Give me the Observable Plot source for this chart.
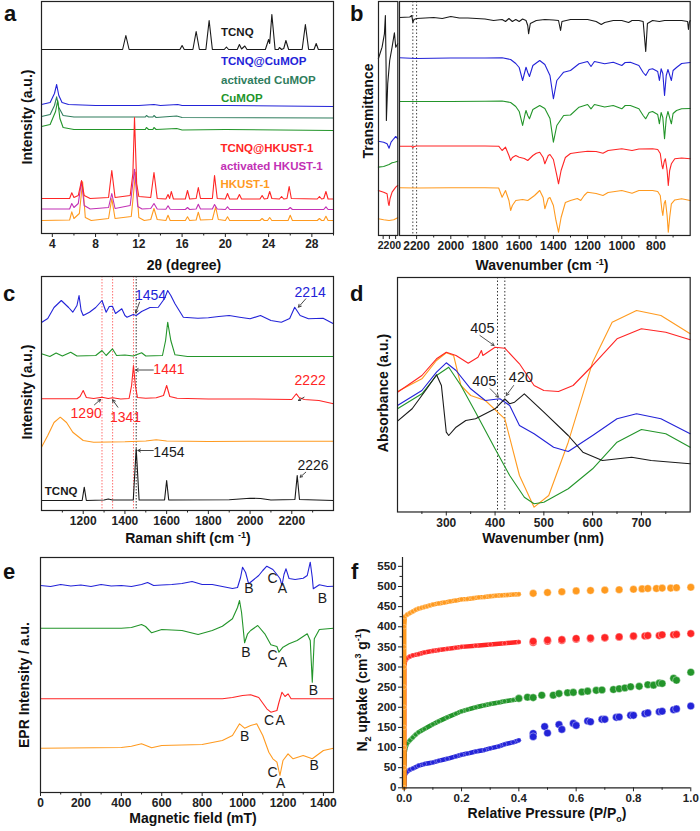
<!DOCTYPE html>
<html><head><meta charset="utf-8">
<script src="https://cdn.jsdelivr.net/npm/d3@7"></script>
<script src="https://cdn.jsdelivr.net/npm/@observablehq/plot@0.6"></script>
<style>
body{margin:0;background:#fff;}
#fig{position:relative;width:700px;height:831px;font-family:"Liberation Sans",Arial,sans-serif;overflow:hidden;background:#fff;color:#111}
.t{position:absolute;font-weight:bold;white-space:nowrap;line-height:1.15}
.lt{font-size:22px}
.ax{font-size:14px}
.rot{transform:translate(-50%,-50%) rotate(-90deg)}
.ctr{transform:translate(-50%,-50%)}
sup,sub{font-size:9px}
</style></head><body><div id="fig"></div>
<script>
// ---------------- DATA ----------------
// (a) PXRD, 2theta (deg) vs stacked intensity
const a_TCNQ=[[3,184],[10.5,184],[10.8,198],[11.1,184],[15.8,184],[16.0,188],[16.2,184],[17.0,184],[17.3,202],[17.6,184],[18.2,184],[18.5,213],[18.8,184],[19.9,184],[20.1,186.5],[20.3,184],[21.1,184],[21.3,189],[21.5,184.5],[21.8,187.5],[22.0,184],[23.7,184],[24.0,194],[24.1,190],[24.3,219],[24.6,184],[24.9,184],[25.0,186],[25.2,184],[25.4,185],[25.6,193],[25.85,184],[27.1,184],[27.4,209],[27.7,184],[28.2,184],[28.4,190],[28.6,184],[30,184]];
const a_TCNQ_CuMOP=[[3,129],[3.8,131],[4.2,140],[4.4,149],[4.6,138],[4.9,131],[5.5,129],[8,128],[12,128],[13.4,129],[14,128],[15.6,129],[16,128],[20,128],[30,127]];
const a_actCuMOP=[[3,117],[3.8,119],[4.2,128],[4.4,136.7],[4.6,126],[5,118],[6,116.5],[12.6,116.5],[12.7,118],[12.9,116.5],[13.3,116.5],[13.4,118],[13.6,116],[15.5,117.5],[16,116],[30,115.5]];
const a_CuMOP=[[3,107],[3.8,109],[4.3,122],[4.5,133],[4.7,115],[5,106],[6,104],[12.6,104],[12.7,106],[12.9,104],[13.3,104],[13.4,106],[13.6,104],[15.5,105],[16,103.5],[20,104],[30,103]];
const a_TCNQ_HKUST=[[3,35],[5.6,35],[5.8,40.7],[6.0,36],[6.4,38],[6.7,53],[6.95,38],[7.5,35],[9.2,36],[9.5,63],[9.8,36],[11.2,38],[11.45,60],[11.6,116],[11.8,50],[12.0,37],[13.1,36],[13.4,61],[13.7,35],[14.5,34.5],[14.7,39],[14.85,35],[15.0,42],[15.2,34.5],[16.3,34.5],[16.5,43],[16.7,34.5],[17.3,35],[17.5,46],[17.7,35],[18.8,35],[19.0,58],[19.25,35],[20.0,34.5],[20.2,40],[20.4,34.5],[21.1,34.5],[21.3,39],[21.5,34.5],[23.2,34.5],[23.4,38],[23.6,34.5],[23.9,35],[24.1,42],[24.3,35],[25.0,34.5],[25.2,37],[25.4,34.5],[25.7,35],[25.9,47],[26.1,35],[28.5,34.5],[28.7,37],[28.9,34.5],[29.1,35],[29.3,42],[29.5,34.5],[30,34.5]];
const a_actHKUST=[[3,24.5],[5.6,24.5],[5.8,30],[6.0,26],[6.4,30],[6.7,52.3],[6.95,28],[7.5,24.5],[9.2,26],[9.5,40],[9.8,25],[11.2,28],[11.6,64.3],[11.9,27],[12.3,24.5],[13.1,25],[13.4,30],[13.7,24.5],[14.5,24.2],[14.7,27.7],[14.9,24.2],[16.3,24],[16.5,26],[16.7,24],[17.3,24.5],[17.5,29.3],[17.7,24.5],[18.8,24.5],[19.0,29],[19.25,24.5],[20.0,24],[20.2,26.7],[20.4,24],[25.8,24],[26.0,26],[26.2,24],[29.1,24],[29.3,26.7],[29.5,24],[30,24]];
const a_HKUST=[[3,13],[5.6,13.5],[5.8,21.7],[6.0,15],[6.5,20],[6.8,51.7],[7.05,16],[7.6,13],[9.2,15],[9.5,35],[9.8,15],[11.3,17],[11.7,61.3],[12.0,16],[12.5,13],[13.1,14],[13.4,25],[13.7,14],[14.5,13],[14.7,18.3],[14.9,13],[16.3,13],[16.5,16.7],[16.7,13],[17.3,13.5],[17.5,21.3],[17.7,13.5],[18.8,14],[19.1,26.7],[19.35,14],[20.0,13],[20.2,16.7],[20.4,13],[23.2,13],[23.4,15],[23.6,13],[23.9,13],[24.1,16],[24.3,13],[25.8,13],[26.0,18.3],[26.2,13],[28.5,13],[28.7,15],[28.9,13],[29.1,13],[29.3,17.3],[29.5,13],[30,13]];
const a_names=["TCNQ","TCNQ@CuMOP","activated CuMOP","CuMOP","TCNQ@HKUST-1","activated HKUST-1","HKUST-1"];
const a_nameX=[19.6,19.6,19.6,19.6,19.55,19.55,19.55];
const a_nameY=[201,171.7,153.3,134.7,85,66.7,49];
const a_ticks=[4,8,12,16,20,24,28];

// (b) FTIR, wavenumber vs stacked transmittance
const b_TCNQ=[[2300,218],[2240,218.5],[2228,220],[2222,213],[2215,216],[2200,217],[2150,217.5],[2100,218],[2050,217],[2000,219],[1950,217.5],[1900,217.5],[1850,217],[1800,216.5],[1750,215],[1700,216],[1680,214],[1660,217],[1640,214],[1620,216],[1600,214],[1580,216.5],[1560,215],[1550,210],[1545,201.7],[1535,212],[1500,215],[1450,216],[1400,215.5],[1370,215],[1358,205],[1350,214],[1300,216],[1250,216],[1200,216],[1150,214],[1120,211],[1100,213],[1050,215],[1000,215],[960,213],[940,215],[900,215],[875,214],[860,184],[850,212],[820,215],[780,214],[750,215],[700,215],[650,215],[615,214],[610,206],[605,213],[600,215]];
const b_TCNQ_CuMOP=[[2300,177.7],[2200,177],[2000,177.5],[1800,177.5],[1700,177.8],[1650,176],[1620,172],[1600,168],[1580,155],[1565,165],[1560,168.3],[1550,163],[1540,159],[1520,170],[1480,175],[1450,171],[1420,160],[1400,136.7],[1380,155],[1340,163.3],[1300,165],[1250,171.7],[1200,174],[1180,169],[1160,174],[1100,171.7],[1050,173.3],[1000,170],[980,173],[950,173.3],[900,170],[875,163],[860,160],[840,166],[820,166.7],[790,164],[780,155],[770,166.7],[760,162],[750,140],[740,160],[730,166],[710,155],[700,165],[680,168],[650,172],[600,173]];
const b_CuMOP=[[2300,134],[2200,134],[2000,134],[1800,134.3],[1700,134.5],[1650,133],[1620,129],[1600,124],[1580,110],[1565,122],[1560,125],[1550,120],[1540,116.7],[1520,126],[1480,130],[1450,127],[1420,117],[1400,93.3],[1380,110],[1340,120],[1300,120.5],[1250,128.3],[1200,131],[1180,126.7],[1160,131],[1100,128.5],[1050,130],[1000,126.7],[980,130],[950,130],[900,126.7],[875,120],[860,116.7],[840,123],[820,124],[790,121],[780,111.7],[770,123],[760,118],[750,96.7],[740,117],[730,124],[710,111.7],[700,122],[680,125],[650,126.7],[600,127]];
const b_TCNQ_HKUST=[[2300,89.3],[2230,89.3],[2222,88],[2215,89],[2200,89.5],[2000,89.5],[1800,89.5],[1720,89.3],[1700,85],[1680,88.3],[1660,80],[1650,75],[1640,78],[1620,80],[1600,78.3],[1570,77],[1550,75],[1520,80],[1500,82.3],[1480,83.3],[1460,78],[1450,71.7],[1430,80],[1420,81],[1400,76],[1380,60],[1370,51.7],[1355,65],[1330,78],[1300,82],[1250,83.3],[1200,84.3],[1150,84],[1110,82.3],[1080,85],[1000,86.7],[940,85],[900,86.5],[820,86.7],[790,86],[775,82],[765,70],[760,66.7],[752,74],[745,76.7],[735,65],[728,50],[720,65],[710,71.7],[690,76.7],[650,77.5],[600,76.7]];
const b_HKUST=[[2300,47.7],[2200,47.5],[2000,47.7],[1800,47.7],[1720,47.5],[1700,38.3],[1680,45],[1660,35],[1650,25],[1640,30],[1620,35],[1580,36],[1550,35],[1510,40],[1480,45],[1460,38],[1450,26.7],[1430,37],[1420,38],[1400,30],[1385,15],[1370,3.3],[1355,18],[1330,33],[1300,35],[1260,37],[1240,35],[1220,40],[1200,43.3],[1150,42],[1110,40],[1080,43],[1000,45],[940,42.3],[900,45],[820,45],[790,44],[775,40],[765,25],[760,20],[752,32],[745,35],[735,20],[728,3.3],[720,18],[710,31.7],[690,35.5],[650,36.7],[600,35]];
// inset (nitrile region)
const bi_TCNQ=[[2235.5,176.7],[2223.5,188.3],[2216,201.7],[2212.9,220],[2210.6,168.3],[2209.7,115],[2205.4,151.7],[2199,175],[2191.3,188.3],[2183.9,202.7],[2179.6,188.3],[2173.2,191.7]];
const bi_TCNQ_CuMOP=[[2235.5,94.3],[2218.4,93.3],[2207.5,91.7],[2201,87.3],[2194.6,93.3],[2186,96.7],[2179.6,99],[2173.2,96.7]];
const bi_CuMOP=[[2235.5,68.3],[2218.4,69],[2201,71],[2191.3,72.7],[2183.9,73.3],[2173.2,74.3]];
const bi_TCNQ_HKUST=[[2235.5,45],[2218.4,43.3],[2207.5,41.7],[2203,31.7],[2201,30],[2198,36.7],[2191.3,43.3],[2179.6,48.3],[2173.2,50]];
const bi_HKUST=[[2235.5,16.7],[2218.4,15.7],[2201,15],[2186,15.7],[2173.2,17.7]];
const b_ticks=[2200,2000,1800,1600,1400,1200,1000,800];
const b_guides=[2222,2200];

// (c) Raman
const c_TCNQ_CuMOP=[[1000,188],[1030,192],[1060,203],[1095,210],[1130,203],[1150,198.3],[1170,205],[1180,215],[1190,200],[1200,195],[1230,198.3],[1260,203],[1290,210],[1310,198.3],[1325,204],[1340,204.3],[1355,197],[1385,201.7],[1400,195],[1410,193.3],[1440,196],[1454,195],[1480,199],[1520,203],[1560,203.3],[1590,212],[1605,220],[1620,215],[1640,206.7],[1680,193.3],[1750,192.3],[1800,192.7],[1850,194],[1900,195],[1950,193.3],[2000,191.7],[2050,195],[2100,190],[2150,188.3],[2190,192],[2214,203.3],[2240,195],[2280,191.7],[2350,192.3],[2400,186.7]];
const c_CuMOP=[[1000,156.7],[1040,154],[1070,157.5],[1100,154.5],[1140,158.3],[1170,154.5],[1260,155],[1290,160],[1310,155],[1340,161.7],[1360,155],[1400,155.5],[1440,154.5],[1480,157.7],[1500,154.5],[1580,155],[1595,170],[1605,188.3],[1620,170],[1640,155.7],[1700,154],[2000,154],[2400,154]];
const c_TCNQ_HKUST=[[1000,111.7],[1170,111.7],[1185,114],[1200,120],[1215,113],[1250,112],[1290,113.3],[1320,112],[1341,112.7],[1380,111.5],[1420,112],[1432,125],[1441,145],[1450,125],[1460,113],[1500,112.3],[1550,112.7],[1585,115],[1600,125],[1615,114],[1650,112.3],[1800,111.5],[2000,111.5],[2200,111],[2215,115],[2222,116.7],[2235,113],[2260,111],[2330,110],[2400,106.7]];
const c_HKUST=[[1000,63.3],[1030,75],[1060,88],[1090,93.3],[1120,88],[1150,78.3],[1200,70],[1250,68.3],[1400,68.7],[1500,69.5],[1550,70.7],[1600,69.5],[1800,69],[2000,69.3],[2400,69.3]];
const c_TCNQ=[[1000,10],[1195,10],[1205,23.3],[1215,10],[1300,10.5],[1320,11.5],[1340,10.5],[1440,10.5],[1448,40],[1454,61.7],[1460,40],[1468,10.5],[1590,10.5],[1600,30],[1610,10.5],[1900,10.8],[2000,12.3],[2050,12],[2100,10.5],[2215,11],[2226,35],[2237,11],[2400,10]];
const c_redGuides=[1290,1341,1441];
const c_blackGuides=[1454];
const c_noteText=["1454","2214","1441","2222","1290","1341","1454","2226"];
const c_noteX=[1523,2288,1611,2288,1214,1403,1611,2302];
const c_noteY=[215,218.3,140.7,130,96.7,93.3,57.7,45];
const c_arrow=[[1470,208.3,1452,197.7],[2267,211.7,2232,203.3],[1536,140.5,1451,140.5],[2259,113.3,2232,110],[1254,105.7,1283,111],[1366,103.3,1341,110.7],[1536,60,1462,60],[2267,38.3,2240,33.3]];
const c_ticks=[1200,1400,1600,1800,2000,2200];

// (d) UV-vis
const d_TCNQ_HKUST=[[200,119.8],[230,129.8],[250,136.5],[280,153.2],[300,159.8],[320,156.5],[345,148.8],[365,154.8],[372,161.5],[375,156.5],[400,164.8],[420,163.8],[450,148.2],[480,126.5],[500,121.5],[530,120.5],[560,126.5],[600,146.5],[650,173.2],[700,183.2],[750,179.8],[800,172.2]];
const d_HKUST=[[200,120.5],[250,133.2],[280,151.5],[300,159.2],[315,156.5],[330,126.5],[350,116.5],[380,111.5],[420,93.2],[450,36.5],[480,4.8],[510,16.5],[550,69.8],[600,149.8],[640,189.8],[690,201.5],[740,196.5],[800,178.2]];
const d_TCNQ_CuMOP=[[200,106.5],[250,121.5],[280,139.8],[300,149.2],[320,141.5],[350,123.2],[380,111.5],[410,113.2],[430,106.5],[450,86.5],[480,78.2],[520,64.8],[550,60.5],[600,76.5],[650,93.2],[690,98.2],[740,93.2],[800,78.2]];
const d_CuMOP=[[200,103.2],[250,118.2],[280,136.5],[305,144.8],[330,126.5],[360,99.8],[400,63.2],[430,36.5],[460,14.8],[480,8.2],[500,9.8],[550,23.2],[600,43.2],[650,69.8],[700,82.5],[750,78.2],[800,64.8]];
const d_TCNQ=[[200,90.8],[230,103.2],[260,123.2],[280,137.2],[290,126.5],[300,79.8],[305,76.5],[320,84.8],[340,91.5],[360,93.2],[400,103.2],[420,113.2],[430,108.2],[440,109.8],[460,118.2],[500,99.8],[550,76.5],[580,59.8],[620,51.5],[680,54.8],[720,51.5],[800,48.2]];
const d_guides=[405,420];
const d_noteText=["405","405","420"];
const d_noteX=[374,378,453];
const d_noteY=[183.2,130.5,134.8];
const d_arrow=[[369,176.5,398,166.5],[390,123.2,407,114.8],[438,126.5,423,116.5]];
const d_ticks=[300,400,500,600,700];

// (e) EPR
const e_TCNQ_CuMOP=[[0,207],[50,206],[100,208],[150,206.5],[200,207.5],[250,206],[300,208],[350,206.5],[400,207],[450,206],[500,208],[530,210],[560,207],[600,207.5],[650,208],[700,209],[750,211],[800,208],[850,208],[900,206],[950,204],[975,205],[990,215],[1000,225.3],[1015,220],[1030,208.7],[1050,212],[1080,217],[1100,222],[1120,226.3],[1150,223],[1170,218],[1185,214],[1195,207],[1205,218],[1215,223.7],[1230,214],[1260,213],[1300,214.3],[1320,217],[1335,230.3],[1345,215],[1350,203.7],[1380,207.7],[1420,206],[1450,206.3]];
const e_CuMOP=[[0,164.3],[400,164.3],[450,165],[500,168],[520,166],[550,159.7],[600,163],[700,162],[780,158],[850,162],[900,166.3],[950,173.7],[975,185],[985,192],[995,180],[1010,149.7],[1025,158.7],[1040,162],[1075,167],[1110,158.7],[1140,147.7],[1170,146],[1180,140.3],[1200,145.3],[1230,148.7],[1270,152],[1320,158.7],[1335,152],[1345,110.3],[1355,153.7],[1380,163],[1450,164.3]];
const e_TCNQ_HKUST=[[0,93.7],[900,93.7],[950,95],[1000,97],[1040,97.7],[1080,95],[1120,83.7],[1140,80.3],[1170,82],[1180,90],[1195,100.3],[1210,96],[1225,98.7],[1240,93.7],[1450,93.7]];
const e_HKUST=[[0,44.3],[400,45],[450,46.3],[500,48.7],[550,44.7],[600,47],[800,48],[900,52],[950,57],[985,68.7],[1010,64.3],[1040,67],[1070,68.7],[1100,57],[1130,40.3],[1150,33.7],[1170,30.3],[1185,17],[1200,32],[1225,38.7],[1250,33.7],[1300,37],[1345,33.7],[1400,42],[1450,44.3]];
const e_noteText=["B","C","A","B","B","C","A","B","C","A","B","C","A","B"];
const e_noteX=[1032,1148,1197,1395,1016,1148,1197,1351,1131,1186,1011,1148,1189,1354];
const e_noteY=[203.7,213.7,203.7,193.7,140.3,137,129.7,102,72,72,56,20.3,8.7,27];
const e_ticks=[0,200,400,600,800,1000,1200,1400];

// (f) N2 isotherms
const f_HKUST_low=[[0,0],[0,50],[0,100],[0,150],[0,200],[0,250],[0,300],[0,350],[0,400],[0.002,425],[0.01,430],[0.02,434],[0.03,438],[0.04,442],[0.05,445],[0.06,447],[0.07,449],[0.08,451],[0.09,453],[0.1,455],[0.12,458],[0.14,460],[0.16,463],[0.18,465],[0.2,468],[0.22,469],[0.24,471],[0.26,473],[0.28,474],[0.3,476],[0.32,477],[0.34,478],[0.36,479],[0.38,480],[0.4,481]];
const f_HKUST_high=[[0.45,483],[0.5,485],[0.55,487],[0.6,489],[0.65,490],[0.7,491],[0.75,492],[0.8,493],[0.83,494],[0.85,495],[0.88,495],[0.9,496],[0.93,496],[0.95,497],[1.0,498]];
const f_TCNQ_HKUST_low=[[0,0],[0,100],[0,200],[0,300],[0.003,315],[0.01,322],[0.02,326],[0.03,329],[0.05,332],[0.07,336],[0.1,340],[0.12,342],[0.15,345],[0.18,348],[0.2,350],[0.25,353],[0.3,356],[0.35,359],[0.4,362]];
const f_TCNQ_HKUST_high=[[0.45,361],[0.45,364],[0.5,364],[0.5,367],[0.55,366],[0.55,368],[0.6,369],[0.6,371],[0.65,370],[0.65,372],[0.7,372],[0.7,373],[0.75,374],[0.75,375],[0.8,376],[0.8,377],[0.84,377],[0.85,378],[0.89,378],[0.9,380],[0.94,380],[0.95,381],[1.0,383]];
const f_CuMOP_low=[[0,0],[0,50],[0.002,90],[0.005,100],[0.01,110],[0.02,118],[0.03,125],[0.04,132],[0.05,138],[0.07,146],[0.1,158],[0.12,165],[0.15,175],[0.18,184],[0.2,190],[0.22,194],[0.25,200],[0.28,205],[0.3,208],[0.33,212],[0.35,215],[0.38,218],[0.4,220]];
const f_CuMOP_high=[[0.4,222],[0.43,225],[0.45,224],[0.48,230],[0.52,230],[0.54,234],[0.57,236],[0.59,237],[0.62,238],[0.64,240],[0.67,242],[0.69,243],[0.73,244],[0.75,246],[0.77,248],[0.79,251],[0.82,252],[0.85,256],[0.87,255],[0.89,260],[0.9,259],[0.94,272],[0.95,267],[1.0,287]];
const f_TCNQ_CuMOP_low=[[0,0],[0,20],[0.002,32],[0.01,40],[0.02,45],[0.03,48],[0.05,55],[0.07,59],[0.1,63],[0.12,67],[0.15,72],[0.18,78],[0.2,82],[0.22,85],[0.25,90],[0.28,94],[0.3,98],[0.33,103],[0.35,108],[0.38,113],[0.4,118]];
const f_TCNQ_CuMOP_high=[[0.45,135],[0.45,127],[0.49,152],[0.5,136],[0.54,157],[0.55,145],[0.59,160],[0.6,155],[0.64,166],[0.65,164],[0.69,170],[0.7,170],[0.74,175],[0.75,176],[0.79,180],[0.8,180],[0.84,184],[0.85,186],[0.89,189],[0.9,190],[0.94,194],[0.95,196],[1.0,203]];
const f_xticks=[0,0.2,0.4,0.6,0.8,1.0];
const f_yticks=[0,50,100,150,200,250,300,350,400,450,500,550];

// ---------------- STYLE / LAYOUT ----------------
const C={black:"#1a1a1a",blue:"#2323d8",teal:"#2f7d5d",green:"#23952a",red:"#ff2525",magenta:"#c231b5",orange:"#ff9a1f"};
const FONT='"Liberation Sans", Arial, sans-serif';
const fig=document.getElementById("fig");
const X=d=>d[0], Y=d=>d[1];
const L=(data,stroke,w=1.1)=>Plot.line(data,{x:X,y:Y,stroke,strokeWidth:w});
const range=(a,b,s)=>d3.range(a,b+s/2,s);

function panel({box,x,y,marks,ticks,minor,fmt,fs=12,ml=2,mb=26,frame=true,extraAxes=[]}){
  const [x0,y0,x1,y1]=box, mt=2, mr=2;
  const svg=Plot.plot({
    width:(x1-x0)+ml+mr, height:(y1-y0)+mt+mb,
    marginLeft:ml, marginRight:mr, marginTop:mt, marginBottom:mb,
    x, y:{...y, axis:null},
    style:{fontFamily:FONT,fontSize:fs+"px",fontWeight:"bold",color:"#222",background:"transparent",overflow:"visible"},
    marks:[
      ...marks,
      Plot.axisX({ticks, tickSize:4, tickPadding:2, tickFormat:fmt||(d=>String(d))}),
      Plot.axisX({ticks:minor, tickSize:2.5, tickFormat:()=>""}),
      ...extraAxes,
      ...(frame?[Plot.frame({stroke:"#222",strokeWidth:1.2})]:[])
    ]
  });
  svg.style.position="absolute"; svg.style.left=(x0-ml)+"px"; svg.style.top=(y0-mt)+"px";
  fig.append(svg);
}
function txt(html,x,y,cls){const d=document.createElement("div");d.className="t "+cls;d.innerHTML=html;d.style.left=x+"px";d.style.top=y+"px";fig.append(d);}
const idx=arr=>arr.map((_,i)=>i);

// ----- panel a -----
const aCols=[C.black,C.blue,C.teal,C.green,C.red,C.magenta,C.orange];
panel({box:[41,1,333,233], x:{domain:[3,30]}, y:{domain:[0,232]}, ticks:a_ticks, minor:range(6,30,4),
  marks:[L(a_TCNQ,C.black),L(a_TCNQ_CuMOP,C.blue),L(a_actCuMOP,C.teal),L(a_CuMOP,C.green),
    L(a_HKUST,C.orange),L(a_actHKUST,C.magenta),L(a_TCNQ_HKUST,C.red),
    Plot.text(idx(a_names),{x:i=>a_nameX[i],y:i=>a_nameY[i],text:i=>a_names[i],fill:i=>aCols[i],textAnchor:"start",fontSize:11.5,fontWeight:"bold"})]});

// ----- panel b -----
panel({box:[399.3,1,690,235], x:{domain:[2300,600]}, y:{domain:[0,234]}, ticks:b_ticks, minor:range(700,2100,200),
  marks:[Plot.ruleX(b_guides,{stroke:"#444",strokeDasharray:"1.5,2",strokeWidth:1}),
    L(b_TCNQ,C.black),L(b_TCNQ_CuMOP,C.blue),L(b_CuMOP,C.green),L(b_TCNQ_HKUST,C.red),L(b_HKUST,C.orange)]});
panel({box:[378,1,397.3,235], x:{domain:[2235,2173]}, y:{domain:[0,234]}, ticks:[2220,2200,2180], minor:[], fs:10.5,
  fmt:d=>d===2200?"2200":"",
  marks:[L(bi_TCNQ,C.black),L(bi_TCNQ_CuMOP,C.blue),L(bi_CuMOP,C.green),L(bi_TCNQ_HKUST,C.red),L(bi_HKUST,C.orange)]});

// ----- panel c -----
const cCols=[C.blue,C.blue,C.red,C.red,C.red,C.red,C.black,C.black];
panel({box:[41,276,333,510], x:{domain:[1000,2400]}, y:{domain:[0,234]}, ticks:c_ticks, minor:range(1100,2300,200),
  marks:[Plot.ruleX(c_redGuides,{stroke:"#ff7070",strokeDasharray:"1.5,1.5",strokeWidth:1}),
    Plot.ruleX(c_blackGuides,{stroke:"#333",strokeDasharray:"1.5,1.5",strokeWidth:1}),
    L(c_TCNQ_CuMOP,C.blue),L(c_CuMOP,C.green),L(c_TCNQ_HKUST,C.red),L(c_HKUST,C.orange),L(c_TCNQ,C.black),
    Plot.arrow(c_arrow,{x1:d=>d[0],y1:d=>d[1],x2:d=>d[2],y2:d=>d[3],stroke:"#333",strokeWidth:0.9,headLength:5}),
    Plot.text(idx(c_noteText),{x:i=>c_noteX[i],y:i=>c_noteY[i],text:i=>c_noteText[i],fill:i=>cCols[i],fontSize:14,fontWeight:"normal"}),
    Plot.text(["TCNQ"],{x:1094,y:19,text:d=>d,fill:C.black,fontSize:11.5,fontWeight:"bold"})]});

// ----- panel d -----
panel({box:[397.3,277,690,511.5], x:{domain:[200,800]}, y:{domain:[0,234.5]}, ticks:d_ticks, minor:range(250,750,100),
  marks:[Plot.ruleX(d_guides,{stroke:"#333",strokeDasharray:"1.5,2",strokeWidth:1}),
    L(d_HKUST,C.orange),L(d_TCNQ_HKUST,C.red),L(d_CuMOP,C.green),L(d_TCNQ_CuMOP,C.blue),L(d_TCNQ,C.black),
    Plot.arrow(d_arrow,{x1:d=>d[0],y1:d=>d[1],x2:d=>d[2],y2:d=>d[3],stroke:"#444",strokeWidth:0.9,headLength:5}),
    Plot.text(idx(d_noteText),{x:i=>d_noteX[i],y:i=>d_noteY[i],text:i=>d_noteText[i],fill:C.black,fontSize:14.5,fontWeight:"normal"})]});

// ----- panel e -----
panel({box:[40,557,333,792], x:{domain:[0,1450]}, y:{domain:[0,235]}, ticks:e_ticks, minor:range(100,1300,200),
  marks:[L(e_TCNQ_CuMOP,C.blue),L(e_CuMOP,C.green),L(e_TCNQ_HKUST,C.red),L(e_HKUST,C.orange),
    Plot.text(idx(e_noteText),{x:i=>e_noteX[i],y:i=>e_noteY[i],text:i=>e_noteText[i],fill:C.black,fontSize:14,fontWeight:"normal"})]});

// ----- panel f -----
const fSeries=[[f_TCNQ_CuMOP_low,f_TCNQ_CuMOP_high,C.blue],[f_CuMOP_low,f_CuMOP_high,C.green],[f_TCNQ_HKUST_low,f_TCNQ_HKUST_high,C.red],[f_HKUST_low,f_HKUST_high,C.orange]];
const fMarks=[];
for(const [lo,hi,c] of fSeries){
  fMarks.push(Plot.line(lo,{x:X,y:Y,stroke:c,strokeWidth:4.5}));
  fMarks.push(Plot.dot(lo,{x:X,y:Y,r:2.3,fill:c,stroke:"#fff",strokeOpacity:0.45,strokeWidth:0.7}));
  fMarks.push(Plot.dot(hi,{x:X,y:Y,r:3.8,fill:c,stroke:"#fff",strokeOpacity:0.5,strokeWidth:0.8}));
}
panel({box:[401.7,557,690,787.3], x:{domain:[-0.006,1.0]}, y:{domain:[0,572]}, ticks:f_xticks, minor:range(0.1,0.9,0.2),
  fmt:d3.format(".1f"), fs:11.5, ml:36, frame:false,
  marks:[...fMarks, Plot.ruleX([-0.006],{stroke:"#222",strokeWidth:1.2}), Plot.ruleY([0],{stroke:"#222",strokeWidth:1.2})],
  extraAxes:[Plot.axisY({ticks:f_yticks,tickSize:4,tickPadding:2}),Plot.axisY({ticks:range(25,525,50),tickSize:2.5,tickFormat:()=>""})]});

// ----- text: letters & axis titles -----
txt("a",4,1,"lt"); txt("b",350,1,"lt"); txt("c",3,281,"lt"); txt("d",350,281,"lt"); txt("e",3,559,"lt"); txt("f",351,559,"lt");
txt("2θ (degree)",184,265,"ax ctr");
txt("Intensity (a.u.)",27,117,"ax rot");
txt("Wavenumber (cm <sup>-1</sup>)",542,265,"ax ctr");
txt("Transmittance",368,111,"ax rot");
txt("Raman shift (cm <sup>-1</sup>)",188,538,"ax ctr");
txt("Intensity (a.u.)",27,392,"ax rot");
txt("Wavenumber (nm)",543,538,"ax ctr");
txt("Absorbance (a.u.)",383,393,"ax rot");
txt("Magnetic field (mT)",193,818,"ax ctr");
txt("EPR Intensity / a.u.",24,685,"ax rot");
txt("Relative Pressure (P/P<sub>o</sub>)",547,815,"ax ctr");
txt("N<sub>2</sub> uptake (cm<sup>3</sup> g<sup>-1</sup>)",363,690,"ax rot");
</script></body></html>
